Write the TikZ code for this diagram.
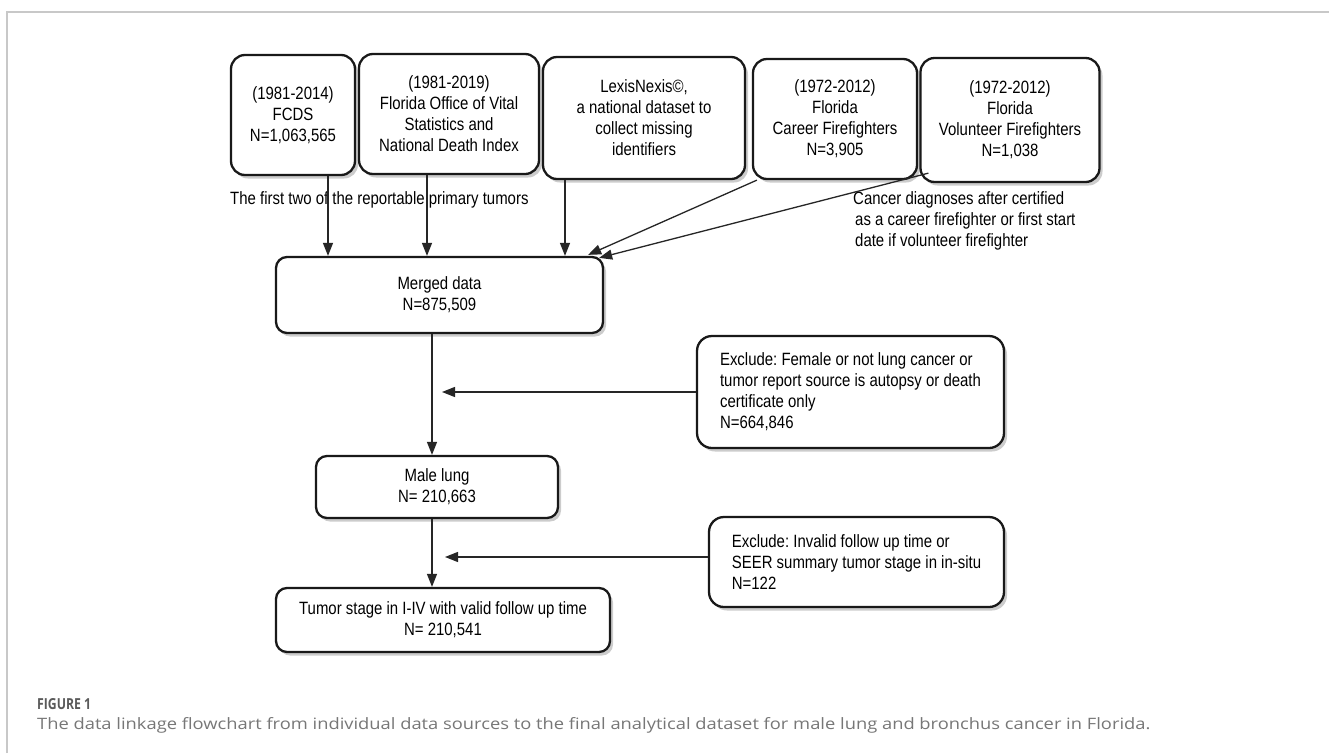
\documentclass[tikz,border=0pt]{standalone}
\usepackage{fontspec}
\setmainfont[FakeStretch=0.84]{Liberation Sans}
\newfontfamily\capfont{Open Sans}
\usetikzlibrary{shadows,arrows.meta}
\definecolor{capgray}{HTML}{777777}
\definecolor{figgray}{HTML}{5A5A5A}
\definecolor{framegray}{HTML}{C8C8C8}
\tikzset{
  box/.style={draw=black!90, line width=2.3pt, rounded corners=14pt, fill=white,
    align=center, inner sep=2pt, font=\fontsize{17.8}{21}\selectfont,
    drop shadow={shadow xshift=3pt, shadow yshift=-3.5pt, opacity=0.2, fill=black}},
  flow/.style={line width=1.3pt, draw=black!85, -{Triangle[length=13pt,width=10pt]}},
  lbl/.style={font=\fontsize{17.8}{21}\selectfont, inner sep=0pt, align=left},
}
\frenchspacing
\begin{document}
\begin{tikzpicture}[x=1pt,y=-1pt]
\useasboundingbox (0,0) rectangle (1329,753);
\fill[white] (0,0) rectangle (1329,753);
\draw[framegray, line width=1.5pt] (7,753) -- (7,12) -- (1329,12);

% source boxes
\node[box, minimum width=124, minimum height=120] (b1) at (293,115) {(1981-2014)\\FCDS\\N=1,063,565};
\node[box, minimum width=180, minimum height=120] (b2) at (449,114) {(1981-2019)\\Florida Office of Vital\\Statistics and\\National Death Index};
\node[box, minimum width=202, minimum height=122] (b3) at (644,118) {LexisNexis\textcopyright,\\a national dataset to\\collect missing\\identifiers};
\node[box, minimum width=164, minimum height=120] (b4) at (835,119) {(1972-2012)\\Florida\\Career Firefighters\\N=3,905};
\node[box, minimum width=179, minimum height=124] (b5) at (1010,120) {(1972-2012)\\Florida\\Volunteer Firefighters\\N=1,038};

% labels
\node[lbl, anchor=west] (l1) at (230,200) {The first two of the reportable primary tumors};
\node[lbl, anchor=west] (l2) at (853,221) {Cancer diagnoses after certified\\\hspace{2pt}as a career firefighter or first start\\\hspace{2pt}date if volunteer firefighter};

% main flow
\node[box, rounded corners=11pt, minimum width=327, minimum height=76] (m) at (439.5,295) {Merged data\\N=875,509};
\node[box, rounded corners=11pt, minimum width=242, minimum height=62] (ml) at (437,487) {Male lung\\N= 210,663};
\node[box, rounded corners=11pt, minimum width=334, minimum height=64] (ts) at (443,620) {Tumor stage in I-IV with valid follow up time\\N= 210,541};

% exclusion boxes
\node[box, rounded corners=15pt, align=left, minimum width=307, minimum height=112] (e1) at (850.5,392) {Exclude: Female or not lung cancer or\\tumor report source is autopsy or death\\certificate only\\N=664,846};
\node[box, rounded corners=15pt, align=left, minimum width=295, minimum height=90] (e2) at (856.5,562) {Exclude: Invalid follow up time or\\SEER summary tumor stage in in-situ\\N=122};

% connectors
\draw[flow] ([xshift=35pt]b1.south) -- ([xshift=35pt]b1.south |- m.north);
\draw[flow] ([xshift=-22pt]b2.south) -- ([xshift=-22pt]b2.south |- m.north);
\draw[flow] ([xshift=-79pt]b3.south) -- ([xshift=-79pt]b3.south |- m.north);
\draw[flow] ([xshift=5pt]b4.south west) -- ([xshift=-16pt,yshift=1pt]m.north east);
\draw[flow] ([xshift=9pt,yshift=10pt]b5.south west) -- ([xshift=-5pt,yshift=-2pt]m.north east);
\draw[flow] ([xshift=-5pt]ml.north |- m.south) -- ([xshift=-5pt]ml.north);
\draw[flow] ([xshift=-5pt]ml.south) -- ([xshift=-5pt]ml.south |- ts.north);
\coordinate (t1) at (442,392);
\coordinate (t2) at (445,557);
\draw[flow] (e1.west) -- (t1);
\draw[flow] (e2.west |- t2) -- (t2);

% caption
\node[anchor=base west, inner sep=0pt, text=figgray] (fig) at (37,709) {\resizebox{54pt}{11pt}{\capfont\bfseries FIGURE 1}};
\node[anchor=base west, inner sep=0pt, text=capgray] (cap) at (37,729) {\resizebox{1113pt}{12pt}{\capfont The data linkage flowchart from individual data sources to the final analytical dataset for male lung and bronchus cancer in Florida.}};
\end{tikzpicture}
\end{document}
